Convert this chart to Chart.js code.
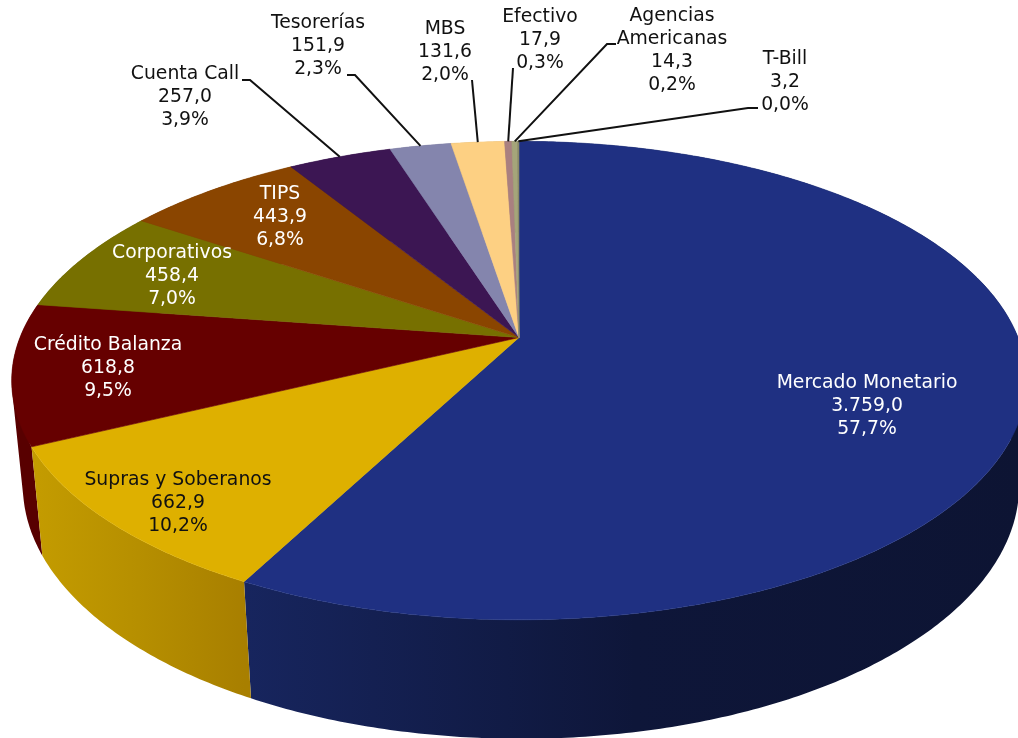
<!DOCTYPE html>
<html>
<head>
<meta charset="utf-8">
<style>
    html, body { margin: 0; padding: 0; background: #fff; overflow: hidden; }
    canvas { display: block; }
</style>
<script src="https://cdn.jsdelivr.net/npm/chart.js@4"></script>
</head>
<body>
<canvas id="pieChart" width="1018" height="738"></canvas>
<script>
const categories = ['Mercado Monetario', 'Supras y Soberanos', 'Crédito Balanza', 'Corporativos', 'TIPS',
    'Cuenta Call', 'Tesorerías', 'MBS', 'Efectivo', 'Agencias Americanas', 'T-Bill'];
const values = [3759.0, 662.9, 618.8, 458.4, 443.9, 257.0, 151.9, 131.6, 17.9, 14.3, 3.2];
const percents = ['57,7%', '10,2%', '9,5%', '7,0%', '6,8%', '3,9%', '2,3%', '2,0%', '0,3%', '0,2%', '0,0%'];

const topColors = ['#1F3082', '#DEB000', '#660000', '#777000', '#8A4500', '#3C1653', '#8485AD', '#FDD083', '#A98080', '#A5A57A', '#8A8A6A'];
// caras laterales: izquierda, centro, derecha
const wallColors = [
    ['#17255E', '#0E1639', '#0D1433'], ['#C49C00', '#B68F00', '#A87F00'], ['#580000', '#580000', '#580000'],
    ['#555000', '#555000', '#555000'], ['#633200', '#633200', '#633200'], ['#2B103C', '#2B103C', '#2B103C'],
    ['#5F607C', '#5F607C', '#5F607C'], ['#B6965E', '#B6965E', '#B6965E'], ['#7A5C5C', '#7A5C5C', '#7A5C5C'],
    ['#777758', '#777758', '#777758'], ['#63634C', '#63634C', '#63634C']
];

// texto de cada etiqueta: centro x, y de la primera linea, color
const labelPos = [
    [867, 383, '#fff'], [178, 480, '#111'], [108, 345, '#fff'], [172, 253, '#fff'], [280, 194, '#fff'],
    [185, 74, '#111'], [318, 23, '#111'], [445, 29, '#111'], [540, 17, '#111'], [672, 16, '#111'], [785, 59, '#111']
];
const lineHeight = 23;

// lineas guia: tramo junto al texto, el ultimo punto sale de la porcion
const leaders = {
    5: [[242, 80], [250, 80]],
    6: [[347, 75], [355, 75]],
    7: [[472, 80]],
    8: [[513, 68]],
    9: [[616, 44], [607, 44]],
    10: [[758, 108], [748, 108]]
};

// proyeccion en perspectiva del circulo unidad (arriba y abajo)
const persp = -0.18;
const apex = [519, 337.5];
function topFace(a) {
    const w = 1 + persp * Math.sin(a);
    return [apex[0] + 499 * Math.cos(a) / w, apex[1] + 231.5 * Math.sin(a) / w];
}
function bottomFace(a) {
    const w = 1 + persp * Math.sin(a);
    return [521 + 490 * Math.cos(a) / w, 440 + 245 * Math.sin(a) / w];
}

const pie3d = {
    id: 'pie3d',
    beforeDatasetsDraw(chart) {
        const ctx = chart.ctx;
        const arcs = chart.getDatasetMeta(0).data;

        // paredes, de atras hacia adelante
        const order = arcs.map((arc, i) => i).sort((a, b) =>
            Math.sin((arcs[a].startAngle + arcs[a].endAngle) / 2) - Math.sin((arcs[b].startAngle + arcs[b].endAngle) / 2));
        order.forEach(i => {
            const arc = arcs[i];
            const span = arc.endAngle - arc.startAngle;
            const steps = Math.max(2, Math.ceil(span / 0.01));
            const xs = [];
            for (let n = 0; n <= steps; n++) xs.push(topFace(arc.startAngle + span * n / steps)[0]);
            const grad = ctx.createLinearGradient(Math.min(...xs), 0, Math.max(...xs) + 1, 0);
            grad.addColorStop(0, wallColors[i][0]);
            grad.addColorStop(0.5, wallColors[i][1]);
            grad.addColorStop(1, wallColors[i][2]);

            // tiras en un solo path, con el mismo sentido de giro para que no queden costuras
            ctx.beginPath();
            for (let n = 0; n < steps; n++) {
                const a0 = arc.startAngle + span * n / steps;
                const a1 = arc.startAngle + span * (n + 1) / steps;
                let p = [topFace(a0), topFace(a1), bottomFace(a1), bottomFace(a0)];
                let area = 0;
                p.forEach((q, k) => {
                    const r = p[(k + 1) % 4];
                    area += q[0] * r[1] - r[0] * q[1];
                });
                if (area < 0) p = p.reverse();
                ctx.moveTo(p[0][0], p[0][1]);
                ctx.lineTo(p[1][0], p[1][1]);
                ctx.lineTo(p[2][0], p[2][1]);
                ctx.lineTo(p[3][0], p[3][1]);
                ctx.closePath();
            }
            ctx.fillStyle = grad;
            ctx.fill();
        });

        // cara superior
        arcs.forEach((arc, i) => {
            const span = arc.endAngle - arc.startAngle;
            const steps = Math.max(2, Math.ceil(span / 0.01));
            ctx.beginPath();
            ctx.moveTo(apex[0], apex[1]);
            for (let n = 0; n <= steps; n++) {
                const p = topFace(arc.startAngle + span * n / steps);
                ctx.lineTo(p[0], p[1]);
            }
            ctx.closePath();
            ctx.fillStyle = topColors[i];
            ctx.strokeStyle = topColors[i];
            ctx.lineWidth = 0.6;
            ctx.fill();
            ctx.stroke();
        });
        return false;
    },
    afterDraw(chart) {
        const ctx = chart.ctx;
        const arcs = chart.getDatasetMeta(0).data;

        ctx.strokeStyle = '#111';
        ctx.lineWidth = 2;
        Object.keys(leaders).forEach(i => {
            const arc = arcs[i];
            const rim = topFace((arc.startAngle + arc.endAngle) / 2);
            ctx.beginPath();
            leaders[i].forEach((p, n) => n === 0 ? ctx.moveTo(p[0], p[1]) : ctx.lineTo(p[0], p[1]));
            ctx.lineTo(rim[0], rim[1]);
            ctx.stroke();
        });

        ctx.font = '18.8px "DejaVu Sans"';
        ctx.textAlign = 'center';
        ctx.textBaseline = 'middle';
        categories.forEach((name, i) => {
            const lines = name === 'Agencias Americanas' ? ['Agencias', 'Americanas'] : [name];
            lines.push(values[i].toLocaleString('de-DE', { minimumFractionDigits: 1, maximumFractionDigits: 1 }));
            lines.push(percents[i]);
            ctx.fillStyle = labelPos[i][2];
            lines.forEach((line, n) => ctx.fillText(line, labelPos[i][0], labelPos[i][1] + n * lineHeight));
        });
    }
};

new Chart(document.getElementById('pieChart').getContext('2d'), {
    type: 'pie',
    data: {
        labels: categories,
        datasets: [{ data: values, backgroundColor: topColors, borderWidth: 0 }]
    },
    options: {
        responsive: false,
        animation: false,
        plugins: {
            legend: { display: false },
            tooltip: { enabled: false }
        }
    },
    plugins: [pie3d]
});
</script>
</body>
</html>
